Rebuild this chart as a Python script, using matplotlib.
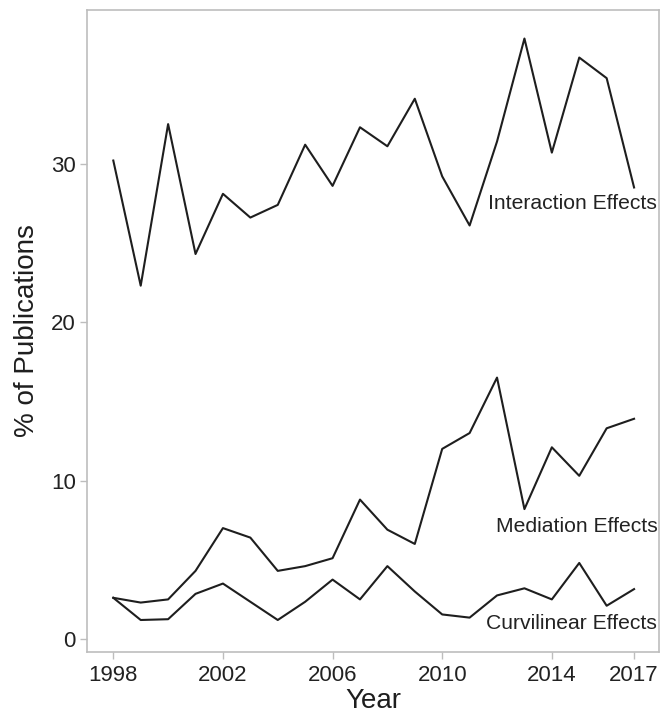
import matplotlib
matplotlib.use("Agg")
import matplotlib.pyplot as plt

# Share of publications reporting each kind of effect, per year
years = list(range(1998, 2018))
interaction = [30.2, 22.3, 32.5, 24.3, 28.1, 26.6, 27.4, 31.2, 28.6, 32.3,
               31.1, 34.1, 29.2, 26.1, 31.4, 37.9, 30.7, 36.7, 35.4, 28.5]
mediation = [2.6, 2.3, 2.5, 4.3, 7.0, 6.4, 4.3, 4.6, 5.1, 8.8,
             6.9, 6.0, 12.0, 13.0, 16.5, 8.2, 12.1, 10.3, 13.3, 13.9]
curvilinear = [2.6, 1.2, 1.25, 2.85, 3.5, 2.35, 1.2, 2.35, 3.75, 2.5,
               4.6, 3.0, 1.55, 1.35, 2.75, 3.2, 2.5, 4.8, 2.1, 3.15]

series = [
    ("Interaction Effects", interaction, 27.5),
    ("Mediation Effects", mediation, 7.1),
    ("Curvilinear Effects", curvilinear, 0.95),
]
year_ticks = [1998, 2002, 2006, 2010, 2014, 2017]
pct_ticks = [0, 10, 20, 30]

plt.rcParams["font.family"] = ["Liberation Sans", "DejaVu Sans"]

fig = plt.figure(figsize=(6.6, 7.21), dpi=100)
ax = fig.add_axes([0.1318, 0.0957, 0.8667, 0.8904])

for name, values, label_y in series:
    ax.plot(years, values, color="#1e1e1e", linewidth=1.5)
    ax.text(2017.85, label_y, name, ha="right", va="center",
            fontsize=15.2, color="#222222")

ax.set_xlim(1997.04, 2017.91)
ax.set_ylim(-0.82, 39.7)
ax.set_xticks(year_ticks)
ax.set_yticks(pct_ticks)

ax.set_xlabel("Year", fontsize=20, color="#1e1e1e", labelpad=2)
ax.set_ylabel("% of Publications", fontsize=20, color="#1e1e1e", labelpad=8)

for spine in ax.spines.values():
    spine.set_color("#bdbdbd")
    spine.set_linewidth(1.2)
ax.tick_params(axis="both", colors="#bdbdbd", labelcolor="#222222",
               labelsize=16, length=5, width=1)
ax.tick_params(axis="x", pad=4)
ax.tick_params(axis="y", pad=3)

fig.savefig("out.png", dpi=100)
